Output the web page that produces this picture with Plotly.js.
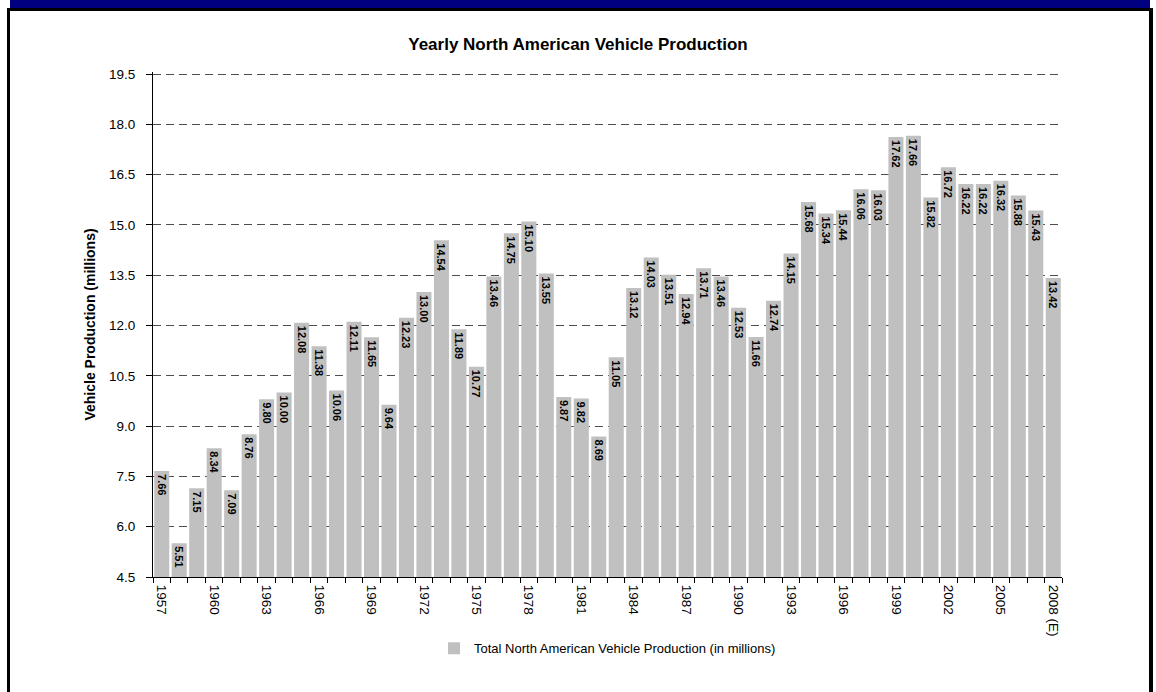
<!DOCTYPE html>
<html>
<head>
<meta charset="utf-8">
<script src="https://cdn.plot.ly/plotly-3.0.1.min.js"></script>
<style>
  html, body { margin: 0; padding: 0; background: #fff; }
  #wrap { position: relative; width: 1156px; height: 692px; overflow: hidden; }
  #chart { position: absolute; left: 0; top: 0; width: 1156px; height: 692px; }
  .frame { position: absolute; pointer-events: none; }
</style>
</head>
<body>
<div id="wrap">
  <div id="chart"></div>
  <div class="frame" style="left:10px; top:0; width:1140px; height:8px; background:#000080;"></div>
  <div class="frame" style="left:7px; top:8px; width:1146px; height:3px; background:#000;"></div>
  <div class="frame" style="left:7px; top:8px; width:3px; height:684px; background:#000;"></div>
  <div class="frame" style="left:1149px; top:8px; width:4px; height:684px; background:#000;"></div>
</div>
<script>
const years = ['1957','1958','1959','1960','1961','1962','1963','1964','1965','1966',
  '1967','1968','1969','1970','1971','1972','1973','1974','1975','1976',
  '1977','1978','1979','1980','1981','1982','1983','1984','1985','1986',
  '1987','1988','1989','1990','1991','1992','1993','1994','1995','1996',
  '1997','1998','1999','2000','2001','2002','2003','2004','2005','2006',
  '2007','2008 (E)'];

const production = [7.66, 5.51, 7.15, 8.34, 7.09, 8.76, 9.80, 10.00, 12.08, 11.38,
  10.06, 12.11, 11.65, 9.64, 12.23, 13.00, 14.54, 11.89, 10.77, 13.46,
  14.75, 15.10, 13.55, 9.87, 9.82, 8.69, 11.05, 13.12, 14.03, 13.51,
  12.94, 13.71, 13.46, 12.53, 11.66, 12.74, 14.15, 15.68, 15.34, 15.44,
  16.06, 16.03, 17.62, 17.66, 15.82, 16.72, 16.22, 16.22, 16.32, 15.88,
  15.43, 13.42];

const labeledYears = ['1957','1960','1963','1966','1969','1972','1975','1978','1981','1984',
  '1987','1990','1993','1996','1999','2002','2005','2008 (E)'];

const yTicks = [4.5, 6.0, 7.5, 9.0, 10.5, 12.0, 13.5, 15.0, 16.5, 18.0, 19.5];

const seriesName = 'Total North American Vehicle Production (in millions)';
const chartTitle = 'Yearly North American Vehicle Production';
const yTitle = 'Vehicle Production (millions)';

const FONT = 'Liberation Sans, Arial, Helvetica, sans-serif';

const tickText = years.map(y => labeledYears.includes(y) ? y : '');

const trace = {
  type: 'bar',
  x: years,
  y: production,
  name: seriesName,
  marker: { color: '#C0C0C0', line: { width: 0 } },
  text: production.map(v => v.toFixed(2)),
  textposition: 'inside',
  insidetextanchor: 'end',
  textangle: 90,
  constraintext: 'none',
  insidetextfont: { family: FONT, size: 11, color: '#000', weight: 'bold' },
  hoverinfo: 'x+y',
  showlegend: true
};

const layout = {
  width: 1156,
  height: 692,
  paper_bgcolor: '#fff',
  plot_bgcolor: '#fff',
  margin: { l: 153, r: 94, t: 72, b: 115, pad: 0 },
  font: { family: FONT, color: '#000', size: 13 },
  title: {
    text: chartTitle,
    font: { family: FONT, size: 17, color: '#000', weight: 'bold' },
    x: 0.5, xref: 'container', xanchor: 'center',
    y: 1 - 44 / 692, yref: 'container', yanchor: 'middle'
  },
  bargap: 0.14,
  showlegend: true,
  legend: {
    orientation: 'h',
    x: 0.5, xanchor: 'center', xref: 'paper',
    y: -0.141, yanchor: 'middle', yref: 'paper',
    font: { family: FONT, size: 13, color: '#000' },
    bgcolor: 'rgba(0,0,0,0)'
  },
  xaxis: {
    type: 'category',
    tickmode: 'array',
    tickvals: years,
    ticktext: tickText,
    tickangle: 90,
    tickson: 'boundaries',
    ticks: 'outside',
    ticklen: 5,
    tickcolor: '#000',
    tickwidth: 1,
    ticklabelstandoff: 4,
    showline: true,
    linecolor: '#000',
    linewidth: 1,
    showgrid: false,
    zeroline: false,
    automargin: false,
    tickfont: { family: FONT, size: 13.5, color: '#000' }
  },
  yaxis: {
    range: [4.5, 19.56],
    tickmode: 'array',
    tickvals: yTicks,
    ticktext: yTicks.map(v => v.toFixed(1)),
    ticks: 'outside',
    ticklen: 6,
    tickcolor: '#000',
    ticklabelstandoff: 8,
    showline: true,
    linecolor: '#000',
    linewidth: 1,
    showgrid: true,
    gridcolor: '#4d4d4d',
    gridwidth: 1,
    griddash: '8px,5px',
    zeroline: false,
    automargin: false,
    tickfont: { family: FONT, size: 13.5, color: '#000' },
    title: {
      text: yTitle,
      font: { family: FONT, size: 14, color: '#000', weight: 'bold' },
      standoff: 10
    }
  }
};

Plotly.newPlot('chart', [trace], layout, { displayModeBar: false, staticPlot: true });
</script>
</body>
</html>
